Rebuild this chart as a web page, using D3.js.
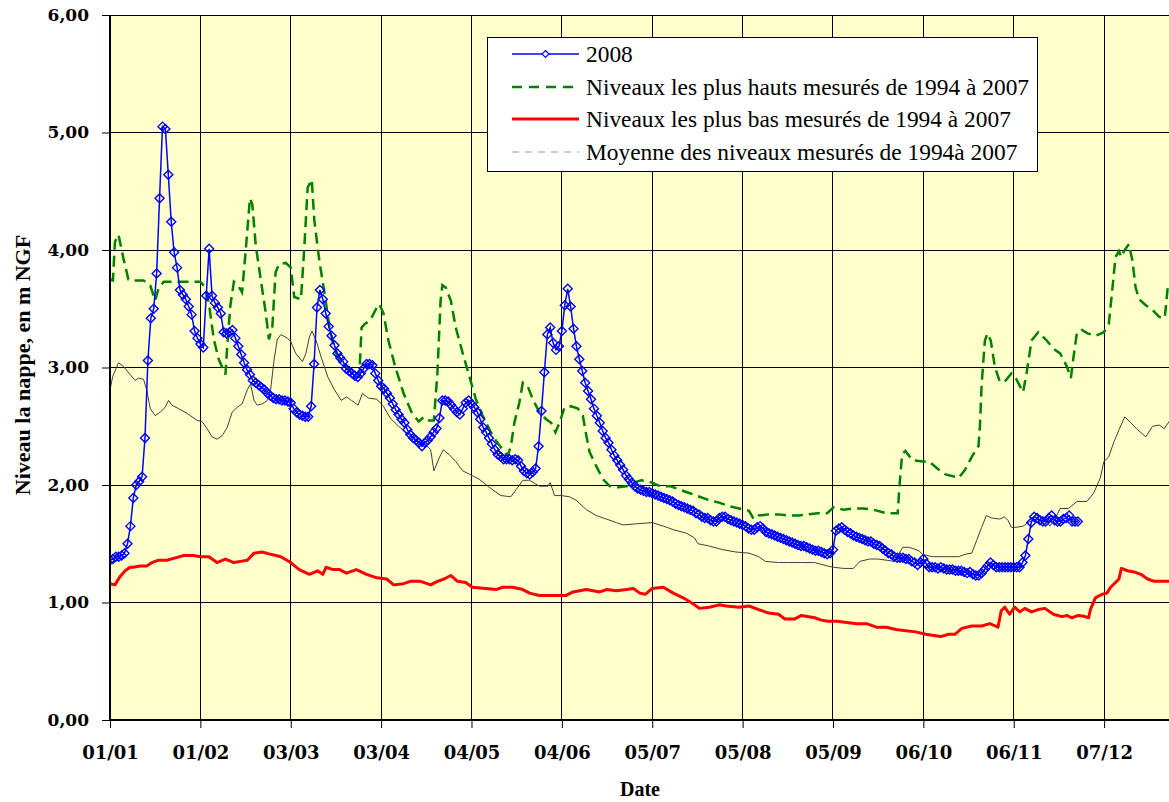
<!DOCTYPE html>
<html>
<head>
<meta charset="utf-8">
<script src="https://cdn.jsdelivr.net/npm/d3@7"></script>
<style>
  html, body { margin: 0; padding: 0; background: #ffffff; }
  svg { display: block; }
</style>
</head>
<body>
<svg id="chart" width="1169" height="802"></svg>
<script>
// ---------- DATA ----------
const tickDays = [0, 31, 62, 93, 124, 155, 186, 217, 248, 279, 310, 341];
const tickLabels = ["01/01", "01/02", "03/03", "03/04", "04/05", "04/06", "05/07", "05/08", "05/09", "06/10", "06/11", "07/12"];
const yTickValues = [0, 1, 2, 3, 4, 5, 6];
const yTickLabels = ["0,00", "1,00", "2,00", "3,00", "4,00", "5,00", "6,00"];

const seriesNames = [
  "2008",
  "Niveaux les plus hauts mesurés de 1994 à 2007",
  "Niveaux les plus bas mesurés de 1994 à 2007",
  "Moyenne des niveaux mesurés de 1994à 2007"
];

// 2008 daily levels (one value per day starting 01/01)
const values2008 = [
  1.36, 1.37, 1.39, 1.39, 1.40, 1.42, 1.50, 1.65, 1.89, 2.00,
  2.03, 2.07, 2.40, 3.06, 3.42, 3.50, 3.80, 4.44, 5.05, 5.03,
  4.64, 4.24, 3.98, 3.85, 3.66, 3.62, 3.58, 3.52, 3.45, 3.31,
  3.25, 3.20, 3.17, 3.61, 4.01, 3.61, 3.55, 3.51, 3.46, 3.30,
  3.29, 3.30, 3.32, 3.25, 3.18, 3.11, 3.04, 2.98, 2.94, 2.89,
  2.87, 2.85, 2.83, 2.81, 2.78, 2.76, 2.74, 2.73, 2.73, 2.72,
  2.72, 2.71, 2.70, 2.65, 2.62, 2.60, 2.59, 2.58, 2.58, 2.67,
  3.03, 3.51, 3.66, 3.58, 3.46, 3.35, 3.27, 3.19, 3.12, 3.08,
  3.05, 2.99, 2.97, 2.95, 2.93, 2.92, 2.95, 2.99, 3.03, 3.03,
  3.02, 2.95, 2.89, 2.84, 2.82, 2.78, 2.74, 2.69, 2.64, 2.60,
  2.56, 2.53, 2.47, 2.43, 2.40, 2.38, 2.36, 2.33, 2.36, 2.38,
  2.41, 2.45, 2.48, 2.57, 2.72, 2.72, 2.71, 2.68, 2.65, 2.62,
  2.60, 2.65, 2.70, 2.72, 2.69, 2.66, 2.62, 2.56, 2.49, 2.45,
  2.40, 2.35, 2.30, 2.26, 2.24, 2.22, 2.22, 2.22, 2.21, 2.22,
  2.21, 2.16, 2.12, 2.10, 2.09, 2.11, 2.14, 2.33, 2.63, 2.96,
  3.28, 3.34, 3.21, 3.15, 3.18, 3.31, 3.53, 3.67, 3.52, 3.33,
  3.18, 3.07, 2.97, 2.87, 2.80, 2.73, 2.65, 2.59, 2.53, 2.46,
  2.40, 2.36, 2.30, 2.25, 2.21, 2.17, 2.13, 2.08, 2.05, 2.02,
  1.99, 1.97, 1.96, 1.95, 1.94, 1.94, 1.93, 1.92, 1.91, 1.90,
  1.89, 1.88, 1.87, 1.86, 1.84, 1.83, 1.82, 1.81, 1.80, 1.79,
  1.78, 1.76, 1.75, 1.73, 1.72, 1.72, 1.70, 1.69, 1.69, 1.72,
  1.73, 1.73, 1.71, 1.70, 1.69, 1.68, 1.67, 1.66, 1.65, 1.63,
  1.62, 1.62, 1.64, 1.65, 1.63, 1.60, 1.59, 1.58, 1.57, 1.56,
  1.55, 1.54, 1.53, 1.52, 1.51, 1.50, 1.49, 1.48, 1.48, 1.47,
  1.46, 1.45, 1.44, 1.44, 1.43, 1.42, 1.41, 1.42, 1.45, 1.61,
  1.63, 1.64, 1.62, 1.60, 1.59, 1.57, 1.56, 1.55, 1.54, 1.53,
  1.52, 1.52, 1.50, 1.49, 1.48, 1.46, 1.44, 1.42, 1.41, 1.39,
  1.38, 1.38, 1.38, 1.37, 1.37, 1.35, 1.34, 1.32, 1.34, 1.37,
  1.33, 1.30, 1.30, 1.30, 1.29, 1.30, 1.29, 1.28, 1.28, 1.28,
  1.27, 1.27, 1.27, 1.26, 1.25, 1.26, 1.24, 1.23, 1.23, 1.25,
  1.28, 1.31, 1.34, 1.32, 1.30, 1.30, 1.30, 1.30, 1.30, 1.30,
  1.30, 1.30, 1.30, 1.34, 1.40, 1.54, 1.68, 1.73, 1.72, 1.70,
  1.69, 1.69, 1.72, 1.74, 1.70, 1.69, 1.69, 1.71, 1.72, 1.74,
  1.69, 1.69, 1.69
];

// Highest levels 1994-2007 (day of year, value)
const highDays = [0, 1, 1.7, 2.9, 4.6, 6.3, 8, 11.5, 13.8, 15.5, 16.6, 18.4, 23, 31, 32.7, 33.9, 35.6, 37.3, 39.6, 40.2,
  41.3, 42.5, 43.9, 45.3, 46.5, 48, 48.8, 50, 51.7, 53.4, 54.5, 55.7, 56.8, 58, 60.3, 62, 63.2, 65.5, 66.6, 67.8,
  69.2, 70.1, 71.8, 73.6, 75.3, 77, 78.8, 81.1, 84, 85.5, 86.3, 87.4, 89.2, 91.5, 92.4, 93.8, 95.5, 97.8, 100.7, 103.6,
  105.9, 107.7, 109.4, 111.1, 112.3, 113.4, 114, 115.2, 116.9, 118.6, 121, 123.2, 125.5, 127.8, 131.2, 134.7, 136.4, 137.5, 138.7, 140.4,
  141.6, 143.3, 145, 147.3, 149.6, 151.3, 152.8, 154.2, 155.9, 158.2, 160.5, 162.2, 163.4, 164.5, 166.8, 169.1, 171.4, 174.3, 177.2, 179.5,
  182.3, 186, 188.7, 192.1, 195.5, 198.9, 202.2, 205.6, 209, 212.4, 215.8, 219.2, 220.8, 222.5, 225.9, 229.3, 232.7, 236.1, 239.4, 242.8,
  246, 248.2, 251.6, 255, 258.4, 261.8, 266.3, 270.2, 270.8, 271.7, 272.8, 275.3, 278.7, 281, 283.8, 286.6, 290, 291.1, 293.3, 295.6,
  297.9, 298.4, 299, 300.1, 301, 302.1, 303.5, 305.2, 306.9, 309.2, 310.9, 313.2, 314.4, 316.1, 318.4, 321.3, 323.6, 325.9, 328.2, 329.6,
  330.5, 331.7, 333.4, 335.3, 338, 340.9, 342.6, 343.8, 344.9, 346.1, 346.9, 347.8, 349.5, 350.7, 351.8, 353, 355.3, 357.6, 359.9, 361.8,
  362.8, 363.6];
const highValues = [3.75, 3.74, 4.07, 4.13, 3.93, 3.75, 3.74, 3.74, 3.70, 3.57, 3.67, 3.73, 3.73, 3.73, 3.68, 3.55, 3.24, 3.07, 2.94, 3.18,
  3.53, 3.73, 3.70, 3.64, 3.98, 4.44, 4.39, 4.04, 3.75, 3.47, 3.24, 3.35, 3.81, 3.88, 3.89, 3.85, 3.60, 3.58, 4.00, 4.53,
  4.60, 4.25, 3.91, 3.63, 3.34, 3.15, 3.06, 3.01, 2.92, 2.92, 3.34, 3.37, 3.40, 3.51, 3.54, 3.46, 3.23, 3.01, 2.78, 2.61,
  2.54, 2.58, 2.55, 2.55, 2.95, 3.57, 3.70, 3.68, 3.57, 3.34, 3.12, 2.93, 2.73, 2.59, 2.42, 2.30, 2.25, 2.33, 2.53, 2.70,
  2.87, 2.84, 2.73, 2.62, 2.56, 2.53, 2.45, 2.53, 2.66, 2.67, 2.65, 2.59, 2.42, 2.28, 2.16, 2.05, 1.99, 1.98, 1.99, 2.02,
  2.04, 2.02, 1.99, 1.99, 1.96, 1.93, 1.90, 1.87, 1.85, 1.82, 1.80, 1.78, 1.71, 1.74, 1.75, 1.75, 1.74, 1.74, 1.75, 1.76,
  1.76, 1.81, 1.79, 1.80, 1.80, 1.79, 1.76, 1.76, 1.99, 2.26, 2.29, 2.21, 2.20, 2.20, 2.14, 2.09, 2.07, 2.06, 2.13, 2.24,
  2.33, 2.50, 2.86, 3.23, 3.29, 3.23, 3.01, 2.88, 2.88, 2.95, 2.90, 2.79, 2.95, 3.23, 3.30, 3.23, 3.16, 3.12, 3.01, 2.91,
  3.09, 3.30, 3.32, 3.29, 3.27, 3.30, 3.37, 3.66, 3.94, 3.99, 3.94, 3.99, 4.05, 3.91, 3.68, 3.58, 3.53, 3.49, 3.43, 3.42,
  3.68, 3.71];

// Lowest levels 1994-2007
const lowDays = [0, 1.7, 3.4, 5.2, 6.9, 8, 10.3, 12.6, 14.4, 16.6, 19.5, 22.4, 25.3, 28.7, 31, 33.9, 35, 36.7, 39.6, 42.5,
  44.8, 47.1, 49.4, 52.2, 55.1, 58.6, 62, 64.9, 68.4, 71.2, 73, 74.1, 76.5, 78.8, 81.1, 84.5, 88, 91.5, 94.9, 97.3,
  100.7, 103, 106.5, 110, 112.3, 114.6, 116.9, 119.2, 122, 124.3, 128.9, 132.4, 134.7, 138.1, 141.6, 143.9, 147.3, 150.8, 154.2, 156.5,
  158.8, 163.4, 168, 170.3, 173.7, 177.2, 179.5, 181.7, 183.6, 186, 189.8, 193.2, 196.6, 200, 202.2, 205.6, 209, 211.3, 215.8, 219.2,
  222.5, 225.9, 229.3, 231.5, 234.9, 237.2, 241.7, 244, 246.2, 249.4, 252.7, 256.1, 259.5, 262.9, 266.3, 269.6, 273, 276.4, 279.8, 282.6,
  284.9, 287.7, 289.9, 292.2, 295.6, 299, 301.8, 304.6, 305.7, 306.9, 308.6, 310.3, 312.1, 313.8, 316.1, 318.4, 320.7, 323.6, 326.5, 328.2,
  329.9, 332.2, 334.5, 335.7, 336.3, 338, 340.3, 342, 343.2, 344.9, 346.1, 346.9, 349, 351.3, 353.6, 355.9, 358.2, 361.6, 363.6];
const lowValues = [1.16, 1.15, 1.22, 1.27, 1.30, 1.30, 1.31, 1.31, 1.34, 1.36, 1.36, 1.38, 1.40, 1.40, 1.39, 1.39, 1.37, 1.34, 1.37, 1.34,
  1.35, 1.36, 1.42, 1.43, 1.41, 1.39, 1.34, 1.28, 1.24, 1.27, 1.24, 1.30, 1.28, 1.28, 1.25, 1.28, 1.24, 1.21, 1.20, 1.15,
  1.16, 1.18, 1.18, 1.15, 1.18, 1.20, 1.23, 1.18, 1.17, 1.13, 1.12, 1.11, 1.13, 1.13, 1.11, 1.08, 1.06, 1.06, 1.06, 1.06,
  1.09, 1.11, 1.09, 1.11, 1.10, 1.11, 1.12, 1.08, 1.07, 1.12, 1.13, 1.08, 1.04, 0.99, 0.95, 0.96, 0.98, 0.97, 0.96, 0.97,
  0.94, 0.91, 0.90, 0.86, 0.86, 0.89, 0.87, 0.85, 0.84, 0.84, 0.83, 0.82, 0.82, 0.79, 0.79, 0.77, 0.76, 0.75, 0.73, 0.72,
  0.71, 0.73, 0.73, 0.78, 0.80, 0.80, 0.82, 0.79, 0.93, 0.96, 0.90, 0.96, 0.92, 0.95, 0.92, 0.94, 0.95, 0.90, 0.88, 0.89,
  0.87, 0.89, 0.88, 0.87, 0.94, 1.04, 1.07, 1.08, 1.13, 1.17, 1.20, 1.29, 1.27, 1.26, 1.24, 1.20, 1.18, 1.18, 1.18];

// Mean levels 1994-2007
const meanDays = [0, 0.9, 2.9, 4.6, 6.9, 8.6, 9.8, 11.5, 12.6, 13.8, 15.5, 17.2, 18.9, 20.1, 21.2, 23.5, 26.4, 29.9, 31.6, 33.3,
  35, 36.7, 38.5, 40.2, 41.9, 43.6, 45.3, 47.1, 48.2, 49.4, 50.5, 52.2, 54, 55.1, 56.3, 57.4, 58.6, 60.9, 62, 63.7,
  66, 67.2, 68.4, 69.3, 70.7, 72.4, 74.7, 77, 79.3, 81.1, 82.8, 85.1, 86.6, 88.6, 91.5, 93.8, 96.1, 99, 101.9, 105.4,
  108.8, 110, 111.1, 112.9, 114.3, 116.3, 118.6, 121, 123.5, 126.6, 130.1, 134.1, 137.5, 139.3, 141.6, 143.9, 147.3, 150.2, 151, 152.5,
  154.8, 157.6, 159.9, 163.4, 166.8, 170.3, 173.7, 176, 180.6, 186, 189.8, 193.2, 197.7, 200.5, 201.7, 205.6, 210.1, 214.6, 219.2, 222.5,
  224.8, 229.3, 232.7, 237.2, 241.7, 246.2, 248.2, 251.6, 255, 257.2, 260.6, 263.4, 266.3, 269.1, 271.9, 274.2, 277.5, 278.7, 282, 286.6,
  291.1, 293.3, 295.6, 297.3, 299, 300.6, 302.3, 305.2, 306.8, 308, 309.2, 310.9, 313.2, 315.5, 317.8, 321.3, 322.4, 324.2, 325.9, 328.8,
  331.7, 335.1, 337.4, 339.7, 340.9, 342.6, 344.4, 346.1, 348.1, 350.1, 352.5, 355.3, 357.6, 359.9, 361.6, 363.6];
const meanValues = [2.81, 2.92, 3.04, 3.01, 2.94, 2.89, 2.91, 2.90, 2.81, 2.65, 2.59, 2.62, 2.66, 2.72, 2.68, 2.65, 2.61, 2.55, 2.54, 2.48,
  2.41, 2.39, 2.42, 2.49, 2.62, 2.66, 2.69, 2.81, 2.86, 2.72, 2.68, 2.69, 2.72, 2.81, 3.07, 3.24, 3.28, 3.25, 3.22, 3.12,
  3.05, 3.12, 3.26, 3.31, 3.23, 3.09, 2.92, 2.81, 2.72, 2.75, 2.72, 2.68, 2.78, 2.74, 2.73, 2.67, 2.57, 2.50, 2.44, 2.38,
  2.33, 2.30, 2.12, 2.23, 2.30, 2.26, 2.20, 2.12, 2.09, 2.05, 1.98, 1.91, 1.90, 1.96, 2.04, 2.04, 1.99, 1.99, 2.02, 1.91,
  1.91, 1.90, 1.87, 1.79, 1.74, 1.71, 1.68, 1.66, 1.67, 1.68, 1.65, 1.62, 1.59, 1.55, 1.50, 1.48, 1.45, 1.43, 1.42, 1.39,
  1.35, 1.34, 1.34, 1.34, 1.34, 1.31, 1.30, 1.29, 1.29, 1.35, 1.37, 1.37, 1.36, 1.35, 1.47, 1.47, 1.44, 1.41, 1.39, 1.39,
  1.39, 1.41, 1.42, 1.53, 1.64, 1.74, 1.72, 1.71, 1.73, 1.70, 1.64, 1.64, 1.65, 1.69, 1.71, 1.69, 1.65, 1.71, 1.80, 1.80,
  1.86, 1.86, 1.93, 2.06, 2.20, 2.24, 2.37, 2.47, 2.58, 2.53, 2.47, 2.41, 2.50, 2.51, 2.48, 2.55];

// ---------- CHART ----------
const W = 1169, H = 802;
const svg = d3.select("#chart");
const x = d3.scaleLinear().domain([0, 366]).range([110, 1177]);
const y = d3.scaleLinear().domain([0, 6]).range([720, 15]);

svg.append("rect").attr("width", W).attr("height", H).attr("fill", "#ffffff");

svg.append("defs").append("clipPath").attr("id", "plotclip")
  .append("rect").attr("x", 110).attr("y", 10).attr("width", W - 110).attr("height", 712);

// plot background
svg.append("rect").attr("x", 110).attr("y", 15).attr("width", W - 110).attr("height", 705)
  .attr("fill", "#ffffcc");

// gridlines
const grid = svg.append("g").attr("shape-rendering", "crispEdges");
grid.selectAll("line.h").data(yTickValues.filter(v => v > 0)).join("line")
  .attr("class", "h")
  .attr("x1", 110).attr("x2", W)
  .attr("y1", d => y(d)).attr("y2", d => y(d))
  .attr("stroke", "#000").attr("stroke-width", 1);
grid.selectAll("line.v").data(tickDays.filter(d => d > 0)).join("line")
  .attr("class", "v")
  .attr("x1", d => x(d)).attr("x2", d => x(d))
  .attr("y1", 15).attr("y2", 720)
  .attr("stroke", "#000").attr("stroke-width", 1);

const plot = svg.append("g").attr("clip-path", "url(#plotclip)");

const lineXY = d3.line().x(d => x(d[0])).y(d => y(d[1]));

const meanData = meanDays.map((d, i) => [d, meanValues[i]]);
const lowData = lowDays.map((d, i) => [d, lowValues[i]]);
const highData = highDays.map((d, i) => [d, highValues[i]]);
const data2008 = values2008.map((v, i) => [i, v]);

plot.append("path").datum(meanData).attr("d", lineXY)
  .attr("fill", "none").attr("stroke", "#404040").attr("stroke-width", 1);
plot.append("path").datum(lowData).attr("d", lineXY)
  .attr("fill", "none").attr("stroke", "#ff0000").attr("stroke-width", 3)
  .attr("stroke-linejoin", "round");
plot.append("path").datum(highData).attr("d", lineXY)
  .attr("fill", "none").attr("stroke", "#008000").attr("stroke-width", 2.5)
  .attr("stroke-dasharray", "11,6");
plot.append("path").datum(data2008).attr("d", lineXY)
  .attr("fill", "none").attr("stroke", "#0000ff").attr("stroke-width", 1.5);

const diamond = s => `M0,${-s}L${s},0L0,${s}L${-s},0Z`;
plot.selectAll("path.mk").data(data2008).join("path")
  .attr("class", "mk")
  .attr("d", diamond(4.5))
  .attr("transform", d => `translate(${x(d[0])},${y(d[1])})`)
  .attr("fill", "none").attr("stroke", "#0000ff").attr("stroke-width", 1.4);

// axes
const xAxis = svg.append("g").attr("transform", "translate(0,720)")
  .call(d3.axisBottom(x).tickValues(tickDays).tickFormat((d, i) => tickLabels[i]).tickSize(8).tickSizeOuter(0));
xAxis.select(".domain").remove();
xAxis.selectAll(".tick line").attr("stroke", "#000");
xAxis.selectAll(".tick text")
  .attr("y", 39).attr("dy", 0)
  .attr("font-family", "'DejaVu Serif', serif").attr("font-weight", "bold")
  .attr("font-size", 18).attr("fill", "#000");

const yAxis = svg.append("g").attr("transform", "translate(110,0)")
  .call(d3.axisLeft(y).tickValues(yTickValues).tickFormat((d, i) => yTickLabels[i]).tickSize(8).tickPadding(13).tickSizeOuter(0));
yAxis.select(".domain").remove();
yAxis.selectAll(".tick line").attr("stroke", "#000");
yAxis.selectAll(".tick text")
  .attr("font-family", "'DejaVu Serif', serif").attr("font-weight", "bold")
  .attr("font-size", 17).attr("fill", "#000");

// axis lines
svg.append("line").attr("x1", 110).attr("x2", 110).attr("y1", 15).attr("y2", 720)
  .attr("stroke", "#000").attr("stroke-width", 2);
svg.append("line").attr("x1", 109).attr("x2", W).attr("y1", 720).attr("y2", 720)
  .attr("stroke", "#000").attr("stroke-width", 2);

// axis titles
svg.append("text").attr("x", 640).attr("y", 796).attr("text-anchor", "middle")
  .attr("font-family", "'Liberation Serif', 'Times New Roman', serif").attr("font-weight", "bold")
  .attr("font-size", 20).text("Date");
svg.append("text").attr("transform", "translate(30,365) rotate(-90)").attr("text-anchor", "middle")
  .attr("font-family", "'Liberation Serif', 'Times New Roman', serif").attr("font-weight", "bold")
  .attr("font-size", 22).text("Niveau la nappe, en m NGF");

// legend
const lg = svg.append("g");
lg.append("rect").attr("x", 487.5).attr("y", 37.5).attr("width", 550).attr("height", 134)
  .attr("fill", "#ffffff").attr("stroke", "#000").attr("stroke-width", 1);
const rowsY = [54, 87, 119, 152];
const lx1 = 512, lx2 = 579;
// 2008
lg.append("line").attr("x1", lx1).attr("x2", lx2).attr("y1", rowsY[0]).attr("y2", rowsY[0])
  .attr("stroke", "#0000ff").attr("stroke-width", 1.5);
lg.append("path").attr("d", diamond(3.5)).attr("transform", `translate(${(lx1 + lx2) / 2},${rowsY[0]})`)
  .attr("fill", "#fff").attr("stroke", "#0000ff").attr("stroke-width", 1.2);
// high
lg.append("line").attr("x1", lx1).attr("x2", lx2).attr("y1", rowsY[1]).attr("y2", rowsY[1])
  .attr("stroke", "#008000").attr("stroke-width", 2.5).attr("stroke-dasharray", "10,7");
// low
lg.append("line").attr("x1", lx1).attr("x2", lx2).attr("y1", rowsY[2]).attr("y2", rowsY[2])
  .attr("stroke", "#ff0000").attr("stroke-width", 3);
// mean
lg.append("line").attr("x1", lx1).attr("x2", lx2).attr("y1", rowsY[3]).attr("y2", rowsY[3])
  .attr("stroke", "#999999").attr("stroke-width", 1.2).attr("stroke-dasharray", "7,6");

lg.selectAll("text").data(seriesNames).join("text")
  .attr("x", 586).attr("y", (d, i) => rowsY[i] + 8)
  .attr("font-family", "'Liberation Serif', 'Times New Roman', serif")
  .attr("font-size", 23.4).attr("fill", "#000")
  .text(d => d);
</script>
</body>
</html>
